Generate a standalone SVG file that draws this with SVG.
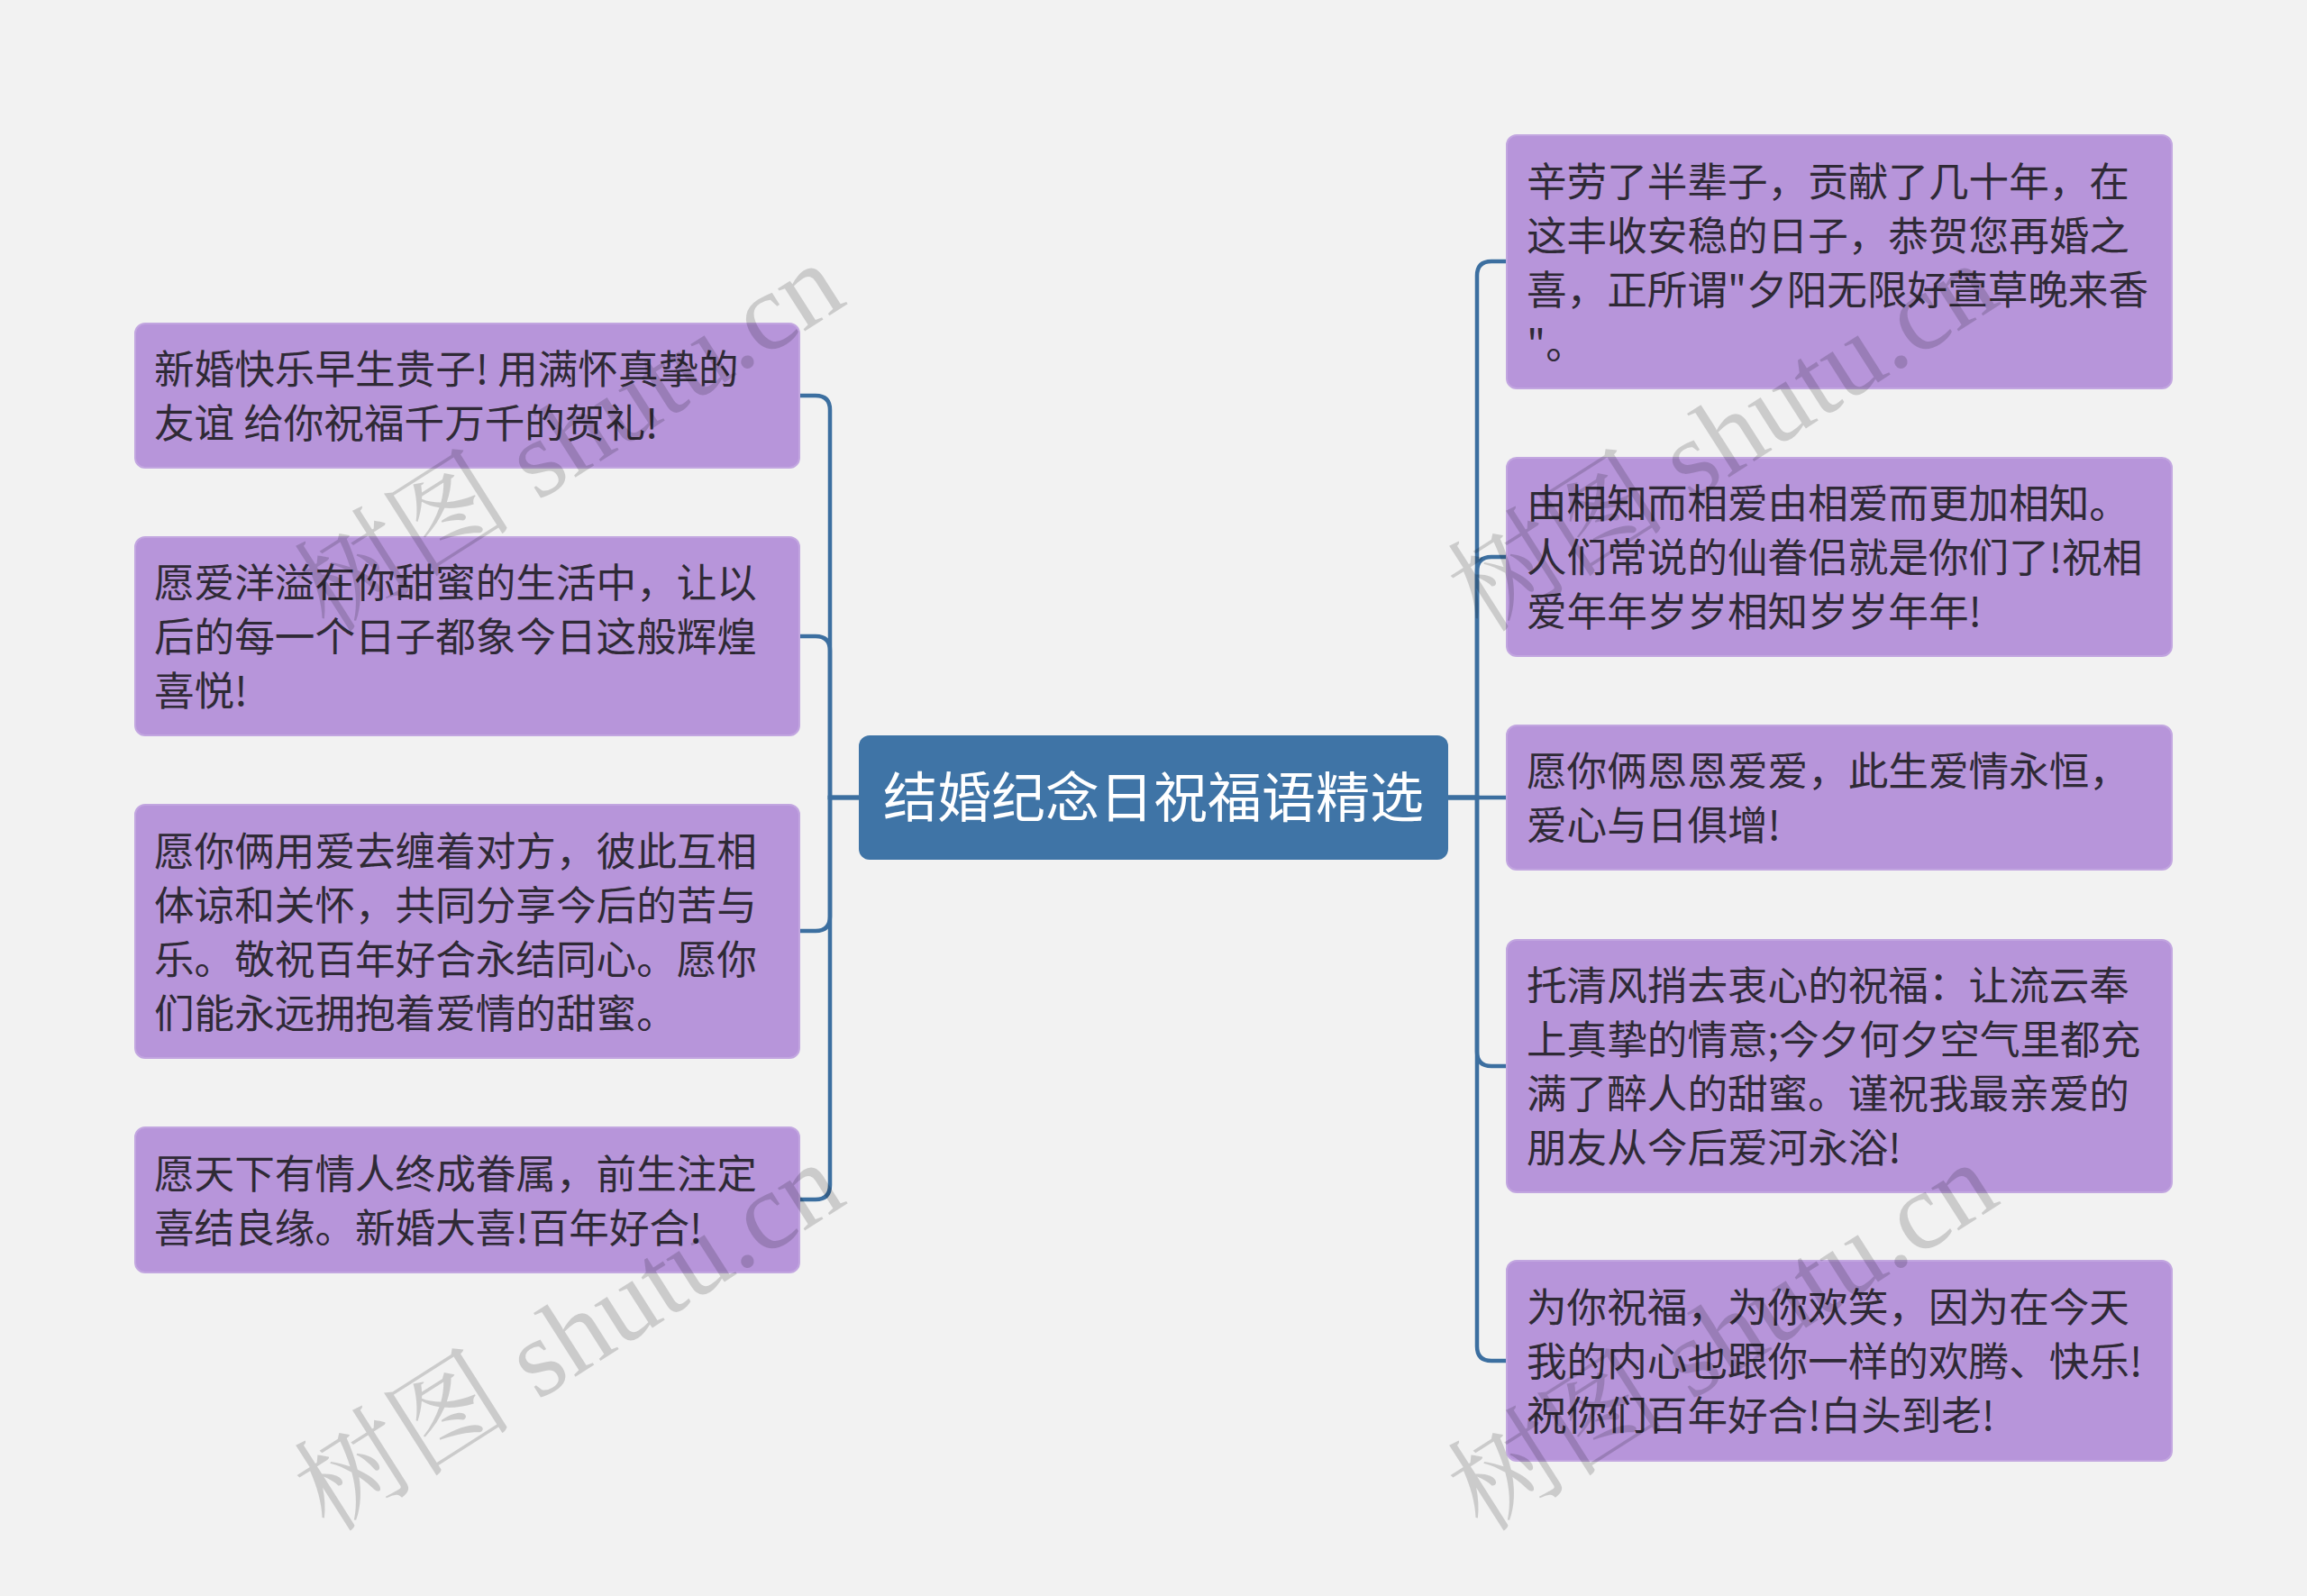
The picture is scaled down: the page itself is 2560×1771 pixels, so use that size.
<svg xmlns="http://www.w3.org/2000/svg" width="2560" height="1771" viewBox="0 0 2560 1771">
<style>
.node rect{fill:#b795da;stroke:#c2a6e0;stroke-width:2}
.node text{font-family:"Noto Sans CJK SC","Noto Sans",sans-serif;font-size:44.6px;fill:#2f2a36}
.center rect{fill:#3f74a6}
.center text{font-family:"Noto Sans CJK SC","Noto Sans",sans-serif;font-size:60px;fill:#ffffff}
.conn path{fill:none;stroke:#3c6fa0;stroke-width:4.5}
.wm{font-family:"Liberation Serif","Noto Serif CJK SC","Noto Sans CJK SC",serif;font-size:122px;fill:#000;fill-opacity:0.16}
</style>
<rect x="0" y="0" width="2560" height="1771" fill="#f2f2f2"/>
<g id="connectors" class="conn">
<path d="M953 885 H921 V455 Q921 439 905 439 H887"/>
<path d="M953 885 H921 V722 Q921 706 905 706 H887"/>
<path d="M953 885 H921 V1017 Q921 1033 905 1033 H887"/>
<path d="M953 885 H921 V1315 Q921 1331 905 1331 H887"/>
<path d="M1607 885 H1639 V306 Q1639 290 1655 290 H1672"/>
<path d="M1607 885 H1639 V634 Q1639 618 1655 618 H1672"/>
<path d="M1607 885 H1672"/>
<path d="M1607 885 H1639 V1167 Q1639 1183 1655 1183 H1672"/>
<path d="M1607 885 H1639 V1494 Q1639 1510 1655 1510 H1672"/>
</g>
<g id="center" class="center">
<rect x="953" y="816" width="654" height="138" rx="12"/>
<text x="1280" y="907" text-anchor="middle">结婚纪念日祝福语精选</text>
</g>
<g id="L1" class="node">
<rect x="150" y="359" width="737" height="160" rx="11"/>
<text x="171" y="426">新婚快乐早生贵子! 用满怀真挚的</text>
<text x="171" y="486">友谊 给你祝福千万千的贺礼!</text>
</g>
<g id="L2" class="node">
<rect x="150" y="596" width="737" height="220" rx="11"/>
<text x="171" y="663">愿爱洋溢在你甜蜜的生活中，让以</text>
<text x="171" y="723">后的每一个日子都象今日这般辉煌</text>
<text x="171" y="783">喜悦!</text>
</g>
<g id="L3" class="node">
<rect x="150" y="893" width="737" height="281" rx="11"/>
<text x="171" y="961">愿你俩用爱去缠着对方，彼此互相</text>
<text x="171" y="1021">体谅和关怀，共同分享今后的苦与</text>
<text x="171" y="1081">乐。敬祝百年好合永结同心。愿你</text>
<text x="171" y="1141">们能永远拥抱着爱情的甜蜜。</text>
</g>
<g id="L4" class="node">
<rect x="150" y="1251" width="737" height="161" rx="11"/>
<text x="171" y="1319">愿天下有情人终成眷属，前生注定</text>
<text x="171" y="1379">喜结良缘。新婚大喜!百年好合!</text>
</g>
<g id="R1" class="node">
<rect x="1672" y="150" width="738" height="281" rx="11"/>
<text x="1694" y="218">辛劳了半辈子，贡献了几十年，在</text>
<text x="1694" y="278">这丰收安稳的日子，恭贺您再婚之</text>
<text x="1694" y="338">喜，正所谓"夕阳无限好萱草晚来香</text>
<text x="1694" y="398">"。</text>
</g>
<g id="R2" class="node">
<rect x="1672" y="508" width="738" height="220" rx="11"/>
<text x="1694" y="575">由相知而相爱由相爱而更加相知。</text>
<text x="1694" y="635">人们常说的仙眷侣就是你们了!祝相</text>
<text x="1694" y="695">爱年年岁岁相知岁岁年年!</text>
</g>
<g id="R3" class="node">
<rect x="1672" y="805" width="738" height="160" rx="11"/>
<text x="1694" y="872">愿你俩恩恩爱爱，此生爱情永恒，</text>
<text x="1694" y="932">爱心与日俱增!</text>
</g>
<g id="R4" class="node">
<rect x="1672" y="1043" width="738" height="280" rx="11"/>
<text x="1694" y="1110">托清风捎去衷心的祝福：让流云奉</text>
<text x="1694" y="1170">上真挚的情意;今夕何夕空气里都充</text>
<text x="1694" y="1230">满了醉人的甜蜜。谨祝我最亲爱的</text>
<text x="1694" y="1290">朋友从今后爱河永浴!</text>
</g>
<g id="R5" class="node">
<rect x="1672" y="1399" width="738" height="222" rx="11"/>
<text x="1694" y="1467">为你祝福，为你欢笑，因为在今天</text>
<text x="1694" y="1527">我的内心也跟你一样的欢腾、快乐!</text>
<text x="1694" y="1587">祝你们百年好合!白头到老!</text>
</g>
<g id="watermarks">
<text class="wm" transform="translate(365 704) rotate(-32.5)">树图 shutu.cn</text>
<text class="wm" transform="translate(365 1702) rotate(-32.5)">树图 shutu.cn</text>
<text class="wm" transform="translate(1645 704) rotate(-32.5)">树图 shutu.cn</text>
<text class="wm" transform="translate(1645 1702) rotate(-32.5)">树图 shutu.cn</text>
</g>
</svg>
